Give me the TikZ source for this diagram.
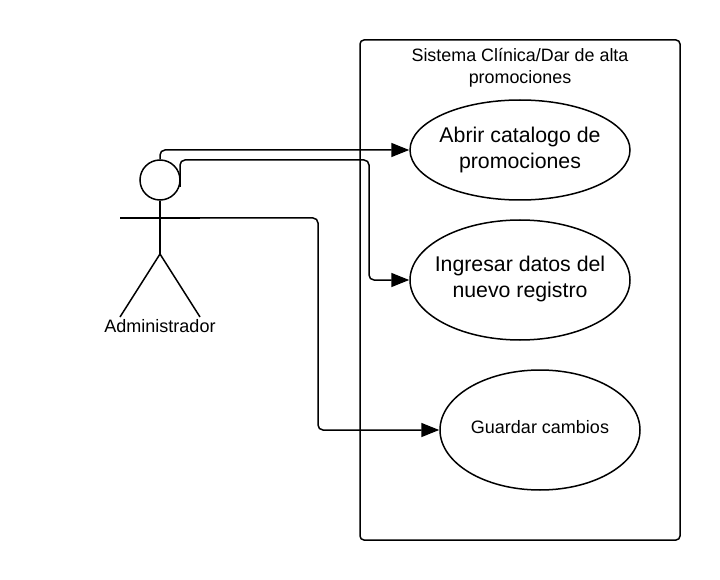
\documentclass[tikz,border=0pt]{standalone}
\usepackage{fontspec}
\setmainfont{Liberation Sans}
\usetikzlibrary{arrows.meta, positioning, calc, shapes.geometric}
\tikzset{
  usecase/.style={draw, ellipse, line width=1.5pt, inner sep=0pt},
  casetext/.style={align=center, inner sep=0pt, font=\fontsize{21.3}{26}\selectfont},
  actorline/.style={line width=1.5pt},
  link/.style={line width=1.5pt, rounded corners=5pt, -{Triangle[length=18pt, width=14pt]}}
}
\begin{document}
\begin{tikzpicture}[x=1pt, y=-1pt]
\useasboundingbox (0,0) rectangle (720,580);
% System box
\node[draw, line width=1.5pt, rounded corners=4pt, minimum width=320pt, minimum height=500pt]
  (sistema) at (520,290) {};
\node[align=center, inner sep=0pt, font=\fontsize{17.9}{22}\selectfont]
  (titulo) at (520,68) {Sistema Clínica/Dar de alta\\promociones};
% Use cases
\node[usecase, minimum width=220pt, minimum height=100pt] (abrir) at (520,150) {};
\node[casetext] (abrirtexto) at (520,150) {Abrir catalogo de\\promociones};
\node[usecase, minimum width=220pt, minimum height=120pt] (ingresar) at (520,280) {};
\node[casetext] (ingresartexto) at (520,278.5) {Ingresar datos del\\nuevo registro};
\node[usecase, minimum width=200pt, minimum height=120pt] (guardar) at (540,430) {};
\node[inner sep=0pt, font=\fontsize{18}{20}\selectfont] (guardartexto) at (540,427) {Guardar cambios};
% Actor
\node[draw, circle, line width=1.5pt, minimum size=40pt, inner sep=0pt] (cabeza) at (160,180) {};
\coordinate (cadera) at (160,254);
\coordinate (brazoizq) at (120,218);
\coordinate (brazoder) at (200,218);
\coordinate (pieizq) at (120,317);
\coordinate (pieder) at (200,317);
\coordinate (salida) at (180,187);
\coordinate (mano) at (195,218);
\draw[actorline] (cabeza.south) -- (cadera);
\draw[actorline] (brazoizq) -- (brazoder);
\draw[actorline] (pieizq) -- (cadera) -- (pieder);
\node[inner sep=0pt, font=\fontsize{18}{20}\selectfont] (administrador) at (160,326) {Administrador};
% Connectors
\draw[link] (cabeza.north) |- (abrir.west);
\draw[link] (salida) |- (369,160) |- (ingresar.west);
\draw[link] (mano) -| (318,430) -- (guardar.west);
\end{tikzpicture}
\end{document}
